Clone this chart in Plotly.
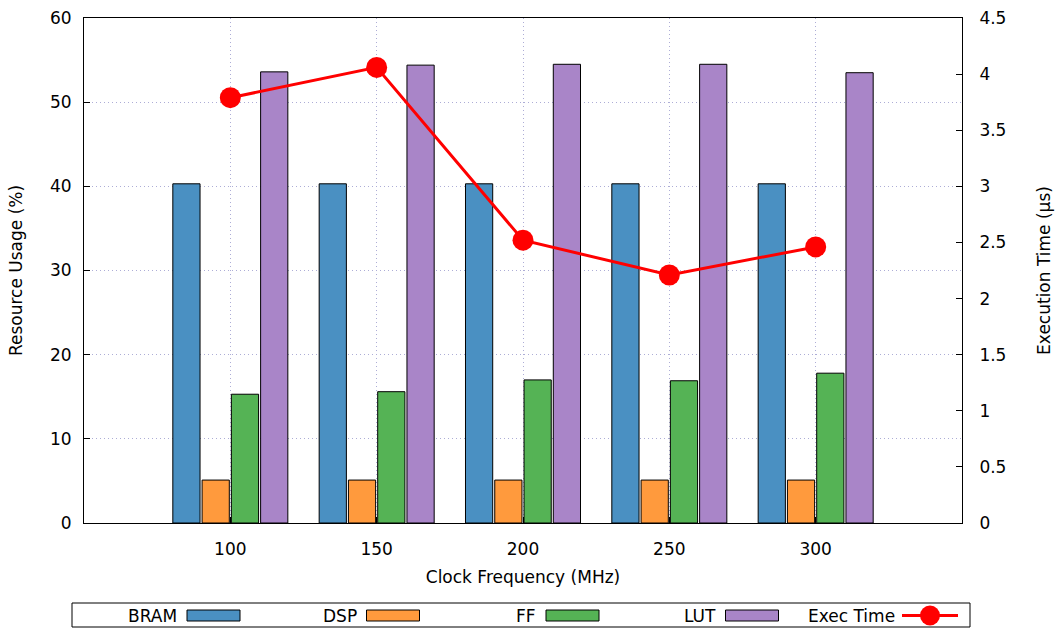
import plotly.graph_objects as go

freqs = [100, 150, 200, 250, 300]
bram = [40.3, 40.3, 40.3, 40.3, 40.3]
dsp = [5.1, 5.1, 5.1, 5.1, 5.1]
ff = [15.3, 15.6, 17.0, 16.9, 17.8]
lut = [53.6, 54.4, 54.5, 54.5, 53.5]
exec_time = [3.79, 4.06, 2.52, 2.21, 2.46]

series_names = ["BRAM", "DSP", "FF", "LUT"]
series_vals = [bram, dsp, ff, lut]
colors = ["#4A90C2", "#FF9A3D", "#55B355", "#A985C8"]
line_color = "#FF0000"

FONT = "DejaVu Sans"
FS = 17
W, H = 1056, 628
ML, MR, MT, MB = 84, 94, 18, 105
PW, PH = W - ML - MR, H - MT - MB

fig = go.Figure()
for name, vals, col in zip(series_names, series_vals, colors):
    fig.add_trace(go.Bar(x=freqs, y=vals, name=name, marker=dict(color=col, line=dict(color="black", width=1)),
                         showlegend=False))
fig.add_trace(go.Scatter(x=freqs, y=exec_time, name="Exec Time", yaxis="y2", mode="lines+markers",
                         line=dict(color=line_color, width=3), marker=dict(size=21, color=line_color),
                         showlegend=False))

grid_col = "#ADADD6"
fig.update_layout(
    width=W, height=H,
    margin=dict(l=ML, r=MR, t=MT, b=MB, autoexpand=False),
    paper_bgcolor="white", plot_bgcolor="white",
    font=dict(family=FONT, size=FS, color="black"),
    barmode="group", bargap=0.2, bargroupgap=0.07,
    xaxis=dict(range=[50, 350], tickvals=freqs, ticktext=[str(f) for f in freqs],
               showline=True, linecolor="black", linewidth=1, mirror=True, automargin=False,
               ticks="inside", ticklen=6, tickcolor="black",
               showgrid=True, gridcolor=grid_col, griddash="1px,3px", gridwidth=1,
               zeroline=False, ticklabelstandoff=11,
               title=dict(text="Clock Frequency (MHz)", standoff=12, font=dict(size=FS))),
    yaxis=dict(range=[0, 60], dtick=10, showline=True, linecolor="black", linewidth=1, mirror=True,
               ticks="inside", ticklen=6, tickcolor="black", automargin=False,
               showgrid=True, gridcolor=grid_col, griddash="1px,3px", gridwidth=1, zeroline=False,
               ticklabelstandoff=8,
               title=dict(text="Resource Usage (%)", standoff=23, font=dict(size=FS))),
    yaxis2=dict(range=[0, 4.5], dtick=0.5, overlaying="y", side="right", showline=True,
                linecolor="black", linewidth=1, ticks="inside", ticklen=6, tickcolor="black",
                showgrid=False, zeroline=False, ticklabelstandoff=13, automargin=False,
                title=dict(text="Execution Time (µs)", standoff=32, font=dict(size=FS))),
)

# custom legend (gnuplot-style: label then sample)
def px_x(p):
    return (p - ML) / PW

def px_y(p):
    return (H - MB - p) / PH

shapes = [dict(type="rect", xref="paper", yref="paper", x0=px_x(72), x1=px_x(970),
               y0=px_y(627), y1=px_y(603), line=dict(color="black", width=1), fillcolor="white")]
annotations = []
entries = list(zip(series_names, colors)) + [("Exec Time", None)]
for i, (name, col) in enumerate(entries):
    x0 = 187 + i * 179.5
    x1 = x0 + 53
    annotations.append(dict(text=name, xref="paper", yref="paper", x=px_x(x0 - 8), y=px_y(616),
                            xanchor="right", yanchor="middle", showarrow=False, font=dict(size=FS)))
    if col is not None:
        shapes.append(dict(type="rect", xref="paper", yref="paper", x0=px_x(x0), x1=px_x(x1),
                           y0=px_y(621), y1=px_y(610), fillcolor=col, line=dict(color="black", width=1)))
    else:
        shapes.append(dict(type="line", xref="paper", yref="paper", x0=px_x(x0 - 3), x1=px_x(x1),
                           y0=px_y(615.5), y1=px_y(615.5), line=dict(color=line_color, width=3)))
        cx = (x0 - 3 + x1) / 2
        shapes.append(dict(type="circle", xref="paper", yref="paper", x0=px_x(cx - 10), x1=px_x(cx + 10),
                           y0=px_y(625.5), y1=px_y(605.5), fillcolor=line_color, line=dict(color=line_color, width=0)))
fig.update_layout(shapes=shapes, annotations=annotations)

fig.write_html("out.html", config={"displayModeBar": False},
               post_script="document.body.style.margin='0';document.body.style.padding='0';")
